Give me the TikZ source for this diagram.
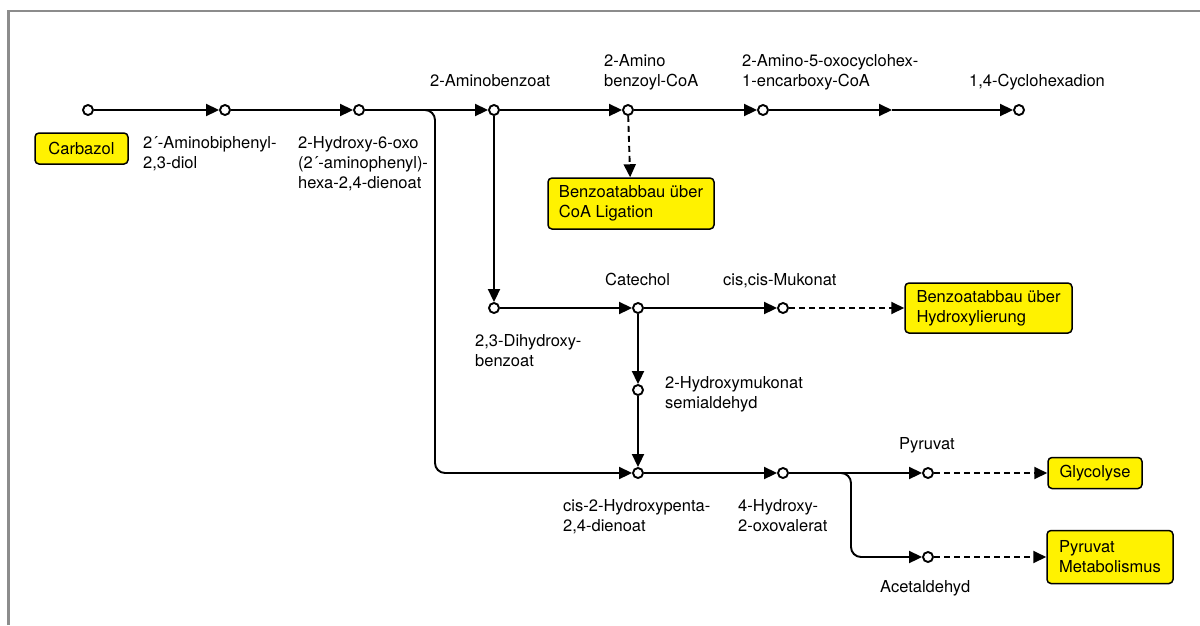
\documentclass[tikz,border=0pt]{standalone}
\usepackage{fontspec}
\setmainfont{TeX Gyre Heros}
\usepackage{xcolor}
\usetikzlibrary{arrows.meta}

\definecolor{rahmen}{RGB}{140,140,140}
\tikzset{
  stoff/.style={circle,draw,fill=white,line width=1.9pt,minimum size=10pt,inner sep=0pt},
  weg/.style={line width=1.9pt,-{Triangle[length=13pt,width=12pt]}},
  nebenweg/.style={weg,dash pattern=on 6pt off 4pt},
  karte/.style={draw,fill=yellow,rounded corners=4pt,line width=1.5pt,align=left,inner sep=0pt},
  beschr/.style={anchor=base west,align=left,inner sep=0pt},
}

\begin{document}
\begin{tikzpicture}[x=1pt,y=-1pt,font=\fontsize{16.5}{20}\selectfont]
\useasboundingbox (0,0) rectangle (1200,625);
\draw[rahmen,line width=2.5pt] (8.5,625) |- (1200,11);
% Stoffe
\node[stoff] (c1) at (88,110) {};
\node[stoff] (c2) at (225,110) {};
\node[stoff] (c3) at (359,110) {};
\node[stoff] (c4) at (494,110) {};
\node[stoff] (c5) at (628,110) {};
\node[stoff] (c6) at (763,110) {};
\coordinate (mid) at (892,110);
\node[stoff] (c7) at (1019,110) {};
\node[stoff] (c8) at (494,308) {};
\node[stoff] (c9) at (638,308) {};
\node[stoff] (c10) at (783,308) {};
\node[stoff] (c11) at (638,390) {};
\node[stoff] (c12) at (638,473) {};
\node[stoff] (c13) at (783,473) {};
\node[stoff] (c14) at (928,473) {};
\node[stoff] (c15) at (928,557) {};
\coordinate (b1) at (435,300);
\coordinate (b2) at (851,520);
% Karten
\node[karte,minimum width=93pt,minimum height=31pt] (carb) at (81.5,148.5) {Carbazol};
\node[karte,minimum width=166pt,minimum height=51pt] (coa) at (631,203.5) {Benzoatabbau über\\CoA Ligation};
\node[karte,minimum width=167pt,minimum height=50pt] (hydr) at (988.5,308) {Benzoatabbau über\\Hydroxylierung};
\node[karte,minimum width=94pt,minimum height=31pt] (glyc) at (1095,473) {Glycolyse};
\node[karte,minimum width=126pt,minimum height=53pt] (pyrm) at (1110,557) {Pyruvat\\Metabolismus};
% Namen (Grundlinie der letzten Zeile)
\node[beschr] (n2) at (143,168) {2´-Aminobiphenyl-\\2,3-diol};
\node[beschr] (n3) at (298,188) {2-Hydroxy-6-oxo\\(2´-aminophenyl)-\\hexa-2,4-dienoat};
\node[beschr] (n4) at (430,86) {2-Aminobenzoat};
\node[beschr] (n5) at (604,86) {2-Amino\\benzoyl-CoA};
\node[beschr] (n6) at (742,86) {2-Amino-5-oxocyclohex-\\1-encarboxy-CoA};
\node[beschr] (n7) at (969,86) {1,4-Cyclohexadion};
\node[beschr] (n8) at (475,366) {2,3-Dihydroxy-\\benzoat};
\node[beschr] (n9) at (605,285) {Catechol};
\node[beschr] (n10) at (723,285) {cis,cis-Mukonat};
\node[beschr] (n11) at (665,408) {2-Hydroxymukonat\\semialdehyd};
\node[beschr] (n12) at (563,531) {cis-2-Hydroxypenta-\\2,4-dienoat};
\node[beschr] (n13) at (738,531) {4-Hydroxy-\\2-oxovalerat};
\node[beschr] (n14) at (899,449) {Pyruvat};
\node[beschr] (n15) at (880,592) {Acetaldehyd};
% Wege
\draw[weg] (c1) -- (c2);
\draw[weg] (c2) -- (c3);
\draw[weg] (c3) -- (c4);
\draw[weg] (c4) -- (c5);
\draw[weg] (c5) -- (c6);
\draw[weg] (c6) -- (mid);
\draw[weg] (mid) -- (c7);
\draw[weg] (c4) -- (c8);
\draw[weg] (c8) -- (c9);
\draw[weg] (c9) -- (c10);
\draw[weg] (c9) -- (c11);
\draw[weg] (c11) -- (c12);
\draw[weg,rounded corners=10pt] (c3) -| (b1) |- (c12);
\draw[weg] (c12) -- (c13);
\draw[weg] (c13) -- (c14);
\draw[weg,rounded corners=10pt] (c13) -| (b2) |- (c15);
\draw[nebenweg] (c5) -- (coa);
\draw[nebenweg] (c10) -- (hydr);
\draw[nebenweg] (c14) -- (glyc);
\draw[nebenweg] (c15) -- (pyrm);
\end{tikzpicture}
\end{document}
